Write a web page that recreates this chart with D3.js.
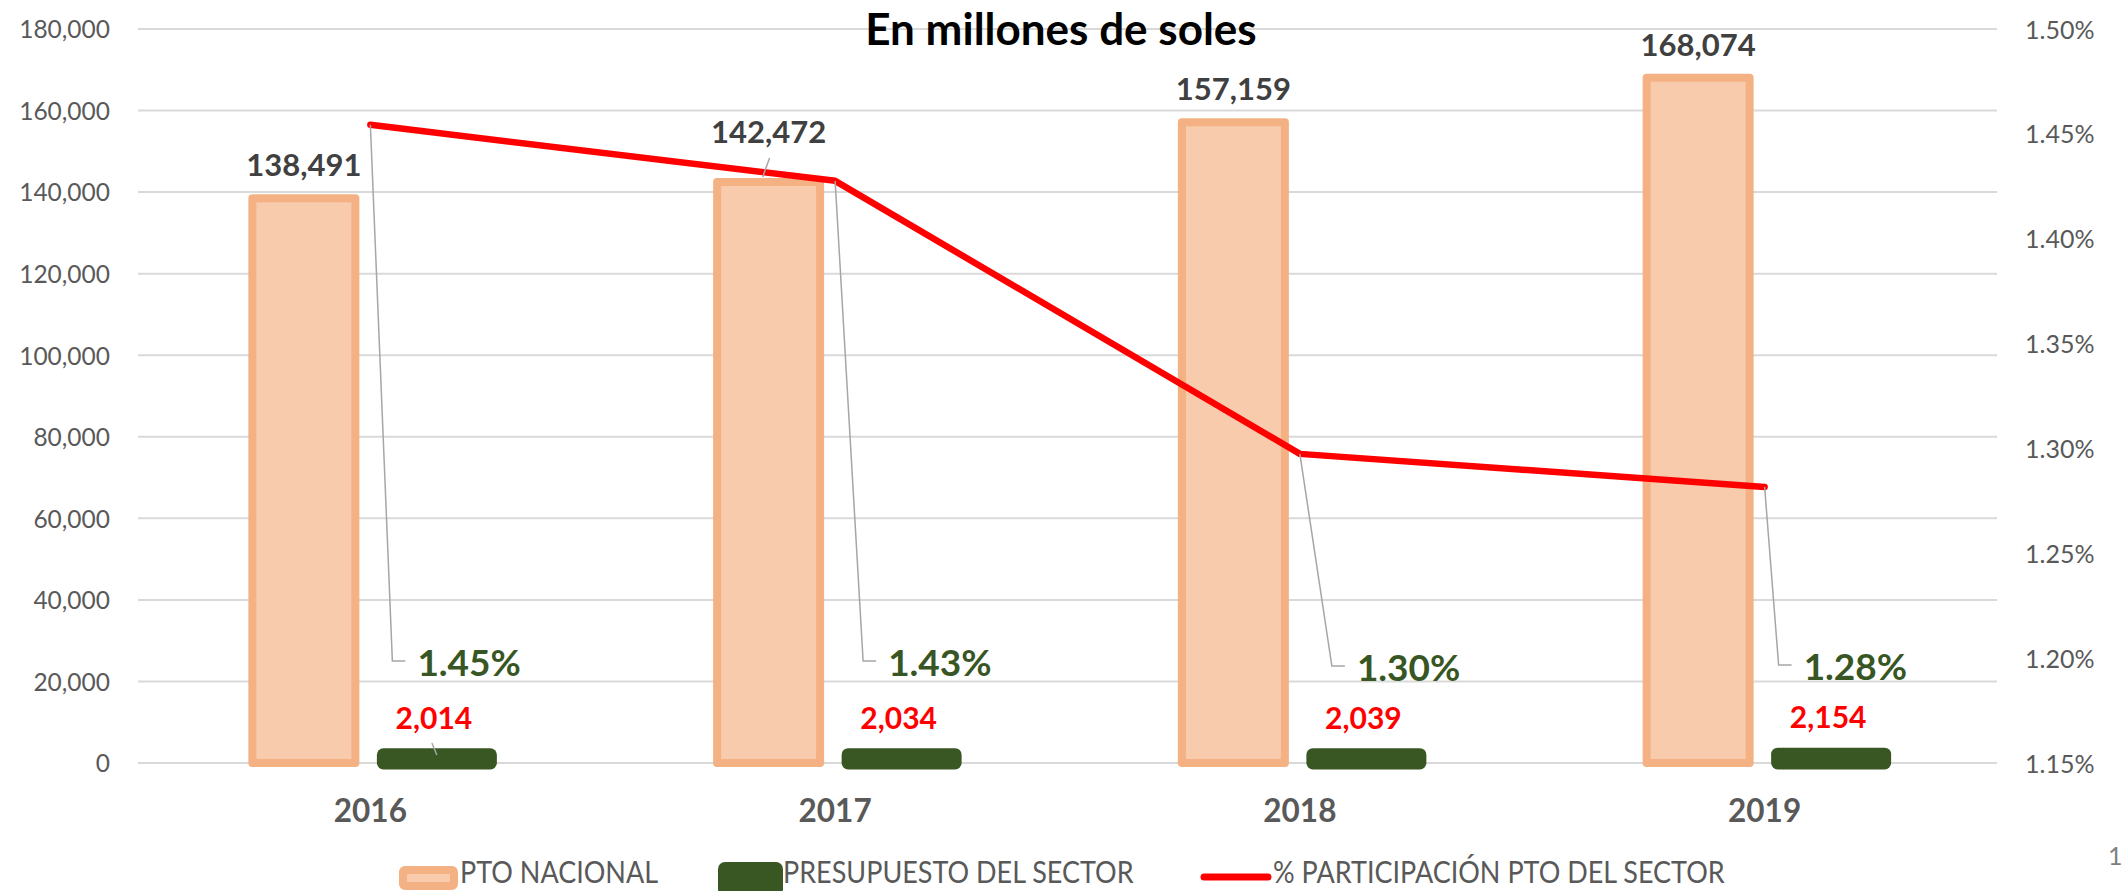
<!DOCTYPE html>
<html>
<head>
<meta charset="utf-8">
<script src="https://cdn.jsdelivr.net/npm/d3@7"></script>
<style>
  body { margin: 0; background: #fff; }
  svg { display: block; font-family: Lato, "Open Sans", sans-serif; }
</style>
</head>
<body>
<svg class="chart"></svg>
<script>
// datos
var years = ["2016", "2017", "2018", "2019"];
var ptoNacional = [138491, 142472, 157159, 168074];
var presupuestoSector = [2014, 2034, 2039, 2154];
var participacion = [1.4543, 1.4276, 1.2974, 1.2816]; // en %
var leftTicks = [0, 20000, 40000, 60000, 80000, 100000, 120000, 140000, 160000, 180000];
var rightTicks = [1.15, 1.20, 1.25, 1.30, 1.35, 1.40, 1.45, 1.50];
var seriesNames = ["PTO NACIONAL", "PRESUPUESTO DEL SECTOR", "% PARTICIPACIÓN PTO DEL SECTOR"];
var title = "En millones de soles";

// ajustes de etiquetas (posicion manual como en Excel)
var pctLabelPos = [[47, 676], [53, 676], [57, 681], [39, 680]];
var ptoLabelLift = [0, 17, 0, 0];

var drawChart = function(){
    var width = 2123, height = 891;
    var left = 138, right = 1997, top = 29, bottom = 763;
    var svg = d3.select(".chart").attr("width", width).attr("height", height);

    var x = d3.scaleBand().domain(years).range([left, right]);
    var bw = x.bandwidth();
    var xs = d3.scaleBand().domain(["pto", "sec"]).range([bw / 2 - 133, bw / 2 + 133]);
    var yL = d3.scaleLinear().domain([0, 180000]).range([bottom, top]);
    var yR = d3.scaleLinear().domain([1.15, 1.50]).range([bottom, top]);
    var cx = function(i){ return x(years[i]) + bw / 2; };

    // lineas de cuadricula
    svg.append("g").selectAll("line")
        .data(leftTicks).enter().append("line")
        .attr("x1", left).attr("x2", right)
        .attr("y1", function(d){ return yL(d); }).attr("y2", function(d){ return yL(d); })
        .attr("stroke", "#D9D9D9").attr("stroke-width", 2);

    // eje izquierdo
    var axL = svg.append("g").attr("transform", "translate(" + left + ",0)")
        .call(d3.axisLeft(yL).tickValues(leftTicks).tickSize(0).tickPadding(28).tickFormat(d3.format(",")));
    axL.select(".domain").remove();
    axL.selectAll("text").attr("font-size", 24.5).attr("fill", "#595959").attr("dy", "0.36em")
        .style("font-family", "Lato, 'Open Sans', sans-serif");

    // eje derecho
    var axR = svg.append("g").attr("transform", "translate(" + right + ",0)")
        .call(d3.axisRight(yR).tickValues(rightTicks).tickSize(0).tickPadding(28)
            .tickFormat(function(d){ return d3.format(".2f")(d) + "%"; }));
    axR.select(".domain").remove();
    axR.selectAll("text").attr("font-size", 25).attr("fill", "#595959").attr("dy", "0.36em")
        .style("font-family", "Lato, 'Open Sans', sans-serif");

    // eje x
    var axX = svg.append("g").attr("transform", "translate(0," + bottom + ")")
        .call(d3.axisBottom(x).tickSize(0).tickPadding(37));
    axX.select(".domain").remove();
    axX.selectAll("text").attr("font-size", 31.5).attr("font-weight", "bold").attr("fill", "#595959")
        .style("font-family", "Lato, 'Open Sans', sans-serif");

    // barras PTO NACIONAL
    svg.append("g").selectAll("rect")
        .data(ptoNacional).enter().append("rect")
        .attr("x", function(d, i){ return x(years[i]) + xs("pto") + (xs.bandwidth() - 103) / 2; })
        .attr("width", 103)
        .attr("y", function(d){ return yL(d); })
        .attr("height", function(d){ return yL(0) - yL(d); })
        .attr("fill", "#F8CBAD").attr("stroke", "#F4B183").attr("stroke-width", 8)
        .attr("stroke-linejoin", "round");

    // barras PRESUPUESTO DEL SECTOR
    svg.append("g").selectAll("rect")
        .data(presupuestoSector).enter().append("rect")
        .attr("x", function(d, i){ return x(years[i]) + xs("sec") + (xs.bandwidth() - 107) / 2; })
        .attr("width", 107)
        .attr("y", function(d){ return yL(d); })
        .attr("height", function(d){ return yL(0) - yL(d); })
        .attr("fill", "#385723").attr("stroke", "#385723").attr("stroke-width", 13)
        .attr("stroke-linejoin", "round");

    // linea de participacion
    var line = d3.line()
        .x(function(d, i){ return cx(i); })
        .y(function(d){ return yR(d); });
    svg.append("path").datum(participacion)
        .attr("d", line)
        .attr("fill", "none").attr("stroke", "#FF0000").attr("stroke-width", 6.5)
        .attr("stroke-linecap", "round").attr("stroke-linejoin", "round");

    // lineas guia de las etiquetas %
    svg.append("g").selectAll("path")
        .data(participacion).enter().append("path")
        .attr("d", function(d, i){
            var lx = cx(i) + pctLabelPos[i][0], ly = pctLabelPos[i][1] - 15;
            return "M" + cx(i) + "," + yR(d) + "L" + (lx - 25) + "," + ly + "L" + (lx - 12) + "," + ly;
        })
        .attr("fill", "none").attr("stroke", "#A6A6A6").attr("stroke-width", 1.5);

    // etiquetas %
    svg.append("g").selectAll("text")
        .data(participacion).enter().append("text")
        .attr("x", function(d, i){ return cx(i) + pctLabelPos[i][0]; })
        .attr("y", function(d, i){ return pctLabelPos[i][1]; })
        .attr("font-size", 37).attr("font-weight", "bold").attr("fill", "#375623")
        .text(function(d){ return d3.format(".2f")(d) + "%"; });

    // etiquetas PTO NACIONAL
    var ptoX = function(i){ return x(years[i]) + xs("pto") + xs.bandwidth() / 2; };
    svg.append("g").selectAll("line")
        .data(ptoNacional).enter().filter(function(d, i){ return ptoLabelLift[i] > 0; })
        .append("line")
        .attr("x1", function(d, i){ return ptoX(1) + 1; }).attr("y1", function(d){ return yL(d) - 24; })
        .attr("x2", function(d, i){ return ptoX(1) - 6; }).attr("y2", function(d){ return yL(d) - 5; })
        .attr("stroke", "#A6A6A6").attr("stroke-width", 1.5);
    svg.append("g").selectAll("text")
        .data(ptoNacional).enter().append("text")
        .attr("x", function(d, i){ return ptoX(i); })
        .attr("y", function(d, i){ return yL(d) - 22 - ptoLabelLift[i]; })
        .attr("text-anchor", "middle")
        .attr("font-size", 31).attr("font-weight", "bold").attr("fill", "#404040")
        .text(function(d){ return d3.format(",")(d); });

    // etiquetas PRESUPUESTO DEL SECTOR
    var secX = function(i){ return x(years[i]) + xs("sec") + xs.bandwidth() / 2; };
    svg.append("line")
        .attr("x1", secX(0) - 5).attr("y1", 743).attr("x2", secX(0)).attr("y2", 755)
        .attr("stroke", "#A6A6A6").attr("stroke-width", 1.5);
    svg.append("g").selectAll("text")
        .data(presupuestoSector).enter().append("text")
        .attr("x", function(d, i){ return secX(i) - 3; })
        .attr("y", function(d){ return yL(d) - 26; })
        .attr("text-anchor", "middle")
        .attr("font-size", 30).attr("font-weight", "bold").attr("fill", "#FF0000")
        .text(function(d){ return d3.format(",")(d); });

    // titulo
    svg.append("text")
        .attr("x", 1061).attr("y", 45).attr("text-anchor", "middle")
        .attr("font-size", 44).attr("font-weight", "bold").attr("fill", "#000")
        .text(title);

    // leyenda
    var lg = svg.append("g");
    lg.append("rect").attr("x", 403).attr("y", 870).attr("width", 51).attr("height", 16).attr("rx", 2)
        .attr("fill", "#F8CBAD").attr("stroke", "#F4B183").attr("stroke-width", 8).attr("stroke-linejoin", "round");
    lg.append("rect").attr("x", 718).attr("y", 862).attr("width", 65).attr("height", 34).attr("rx", 7)
        .attr("fill", "#385723");
    lg.append("line").attr("x1", 1204).attr("x2", 1268).attr("y1", 877).attr("y2", 877)
        .attr("stroke", "#FF0000").attr("stroke-width", 7).attr("stroke-linecap", "round");
    var legendX = [460, 783, 1273];
    lg.selectAll("text.lg")
        .data(seriesNames).enter().append("text")
        .attr("class", "lg")
        .attr("transform", function(d, i){ return "translate(" + legendX[i] + ",883) scale(1,1.12)"; })
        .attr("font-size", 27).attr("fill", "#595959")
        .text(function(d){ return d; });

    // numero de pagina
    svg.append("text").attr("x", 2108).attr("y", 865)
        .attr("font-size", 25).attr("fill", "#7F7F7F").text("1");
};

var main = function(){
    drawChart();
}();
</script>
</body>
</html>
